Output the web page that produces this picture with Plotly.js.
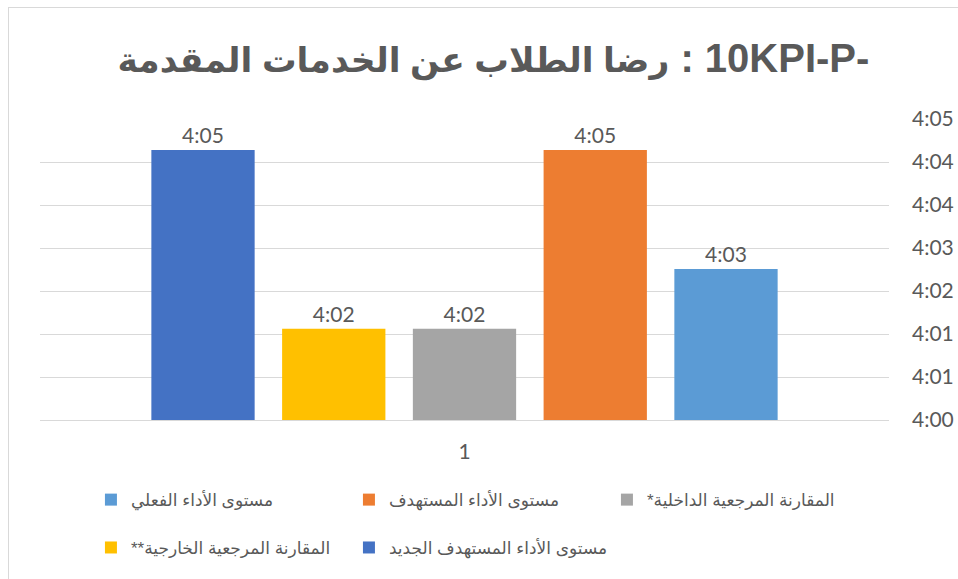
<!DOCTYPE html>
<html>
<head>
<meta charset="utf-8">
<script src="https://cdn.plot.ly/plotly-3.0.1.min.js"></script>
<style>
  html, body { margin: 0; padding: 0; background: #ffffff; }
  #wrap { position: relative; width: 958px; height: 579px; overflow: hidden; }
  #chart { width: 958px; height: 579px; }
  #frame { position: absolute; left: 8px; top: 7px; width: 1000px; height: 1000px;
           border: 1px solid #d9d9d9; pointer-events: none; }
</style>
</head>
<body>
<div id="wrap"><div id="chart"></div><div id="frame"></div></div>
<script>
// ---- data (time values in seconds, e.g. 244.52 s = 4:04.52) ----
const categories = ['1'];

const newTargetName = 'مستوى الأداء المستهدف الجديد';
const externalName  = 'المقارنة المرجعية الخارجية**';
const internalName  = 'المقارنة المرجعية الداخلية*';
const targetName    = 'مستوى الأداء المستهدف';
const actualName    = 'مستوى الأداء الفعلي';

const newTargetValues = [244.52];
const externalValues  = [241.53];
const internalValues  = [241.53];
const targetValues    = [244.52];
const actualValues    = [242.53];

const newTargetLabels = ['4:05'];
const externalLabels  = ['4:02'];
const internalLabels  = ['4:02'];
const targetLabels    = ['4:05'];
const actualLabels    = ['4:03'];

const yTickVals   = [240, 240.72, 241.44, 242.16, 242.88, 243.60, 244.32, 245.04];
const yTickLabels = ['4:00', '4:01', '4:01', '4:02', '4:03', '4:04', '4:04', '4:05'];

const titleArabic = 'رضا الطلاب عن الخدمات المقدمة';
const titleCode   = '10KPI-P-';

// ---- styling ----
const TEXT = '#595959';
const NUMFONT = 'Lato, Carlito, "Liberation Sans", sans-serif';
const ARFONT = '"Liberation Sans", "DejaVu Sans", sans-serif';
const RLM = '\u200F', LRM = '\u200E';

function bar(name, vals, labels, color, legend) {
  return {
    type: 'bar', x: categories, y: vals, name: name + RLM,
    text: labels, textposition: 'outside', cliponaxis: false,
    textfont: { family: NUMFONT, size: 21, color: TEXT },
    marker: { color: color }, legend: legend, hoverinfo: 'skip'
  };
}

const data = [
  bar(newTargetName, newTargetValues, newTargetLabels, '#4472C4', 'legend2'),
  bar(externalName,  externalValues,  externalLabels,  '#FFC000', 'legend2'),
  bar(internalName,  internalValues,  internalLabels,  '#A5A5A5', 'legend'),
  bar(targetName,    targetValues,    targetLabels,    '#ED7D31', 'legend'),
  bar(actualName,    actualValues,    actualLabels,    '#5B9BD5', 'legend')
];

const legendCommon = {
  orientation: 'h', traceorder: 'reversed', xanchor: 'left', yanchor: 'middle',
  font: { family: ARFONT, size: 17, color: TEXT }, entrywidth: 213,
  bgcolor: 'rgba(0,0,0,0)', itemclick: false, itemdoubleclick: false
};

const layout = {
  width: 958, height: 579,
  margin: { l: 40, r: 69, t: 119, b: 159 },
  paper_bgcolor: 'rgba(0,0,0,0)', plot_bgcolor: '#ffffff',
  title: {
    text: '<span style="font-size:34.5px">' + titleArabic + '</span>' + LRM + ' : ' + titleCode,
    font: { family: ARFONT, size: 40, color: TEXT, weight: 'bold' },
    x: 0.515, xanchor: 'center', xref: 'container',
    y: 1 - 58 / 579, yanchor: 'middle', yref: 'container'
  },
  barmode: 'group', bargap: 0.23, bargroupgap: 0.21,
  xaxis: {
    type: 'category', showgrid: false, zeroline: false,
    showline: true, linecolor: '#d9d9d9', linewidth: 1,
    ticks: '', ticklabelstandoff: 13,
    tickfont: { family: NUMFONT, size: 21, color: TEXT }
  },
  yaxis: {
    side: 'right', range: [yTickVals[0], yTickVals[yTickVals.length - 1]],
    tickmode: 'array', tickvals: yTickVals, ticktext: yTickLabels,
    showgrid: true, gridcolor: '#d9d9d9', gridwidth: 1, zeroline: false,
    showline: false, ticks: '', ticklabelstandoff: 22,
    tickfont: { family: NUMFONT, size: 21, color: TEXT }
  },
  legend:  Object.assign({}, legendCommon, { x: 0.06, y: -0.266 }),
  legend2: Object.assign({}, legendCommon, { x: 0.06, y: -0.425 }),
  showlegend: true
};

Plotly.newPlot('chart', data, layout, { displayModeBar: false, staticPlot: true });
</script>
</body>
</html>
